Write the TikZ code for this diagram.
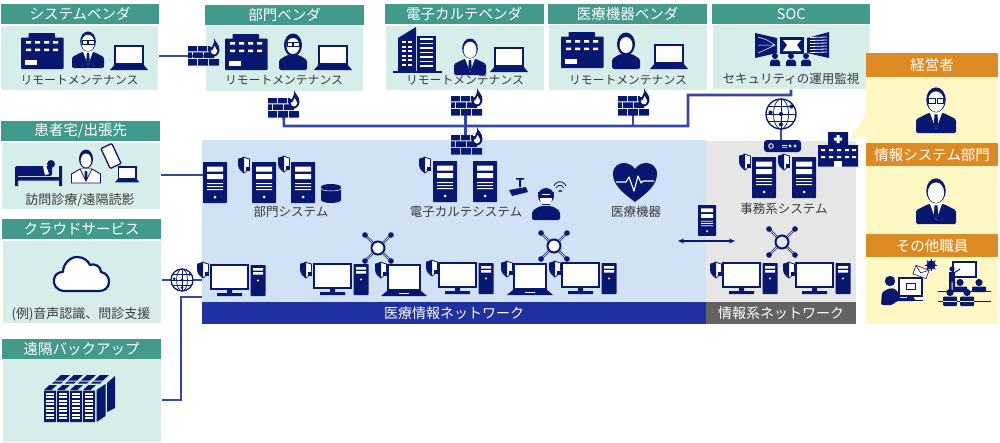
\documentclass[tikz,border=0pt]{standalone}
\usepackage{fontspec}
\setmainfont{Noto Sans CJK JP}
\usetikzlibrary{arrows.meta,calc}
\definecolor{navy}{HTML}{08176F}
\definecolor{hdrgreen}{HTML}{429A8C}
\definecolor{bodygreen}{HTML}{D7EDE9}
\definecolor{medblue}{HTML}{D1E2F6}
\definecolor{medbar}{HTML}{1F30A0}
\definecolor{linkblue}{HTML}{3047B0}
\definecolor{infogray}{HTML}{E6E6E6}
\definecolor{infobar}{HTML}{636363}
\definecolor{staffyellow}{HTML}{FFF7C4}
\definecolor{stafforange}{HTML}{DC8B24}
\definecolor{txt}{HTML}{3A3A3A}
\newcommand{\mybricks}{%
  \fill[navy] (0,8) rectangle (9,13.4) (10,8) rectangle (19,13.4) (20,8) rectangle (22,13.4);
  \fill[navy] (0,14.4) rectangle (4,20.2) (5,14.4) rectangle (15,20.2) (16,14.4) rectangle (26,20.2);
  \fill[navy] (0,21.2) rectangle (9,27.5) (10,21.2) rectangle (20,27.5) (21,21.2) rectangle (31,27.5);
  \fill[navy] (26,0) .. controls (27,4) and (31.5,6) .. (31.5,12) .. controls (31.5,16) and (28,18.5) .. (26,18.5) .. controls (23,18.5) and (20.5,15) .. (20.5,12) .. controls (20.5,9) and (23,8) .. (24,9) .. controls (25,6) and (27,4) .. (26,0) -- cycle;
  \fill[white] (26.5,8) .. controls (27,10) and (29.3,11) .. (29.3,13) .. controls (29.3,15.5) and (27,16.4) .. (26,16.4) .. controls (24,16.4) and (22.8,14.5) .. (22.8,13) .. controls (24,13) and (26,11) .. (26.5,8) -- cycle;
}
\newcommand{\mytower}{%
  \fill[navy,rounded corners=.6] (0,0) rectangle (15,31);
  \fill[white] (2.5,3) rectangle (12.5,5.5) (2.5,7) rectangle (12.5,9.5);
  \fill[white] (7.5,15.5) circle (1.2);
}
\newcommand{\mysuit}{%
  \fill[navy,rounded corners=1.5] (0,36) -- (0,25) -- (10,20) -- (22,20) -- (32,25) -- (32,36) -- cycle;
  \fill[white] (11,19.5) -- (21,19.5) -- (16,33) -- cycle;
  \fill[navy] (14.8,21) -- (17.2,21) -- (17.7,29) -- (16,33) -- (14.3,29) -- cycle;
}
\newcommand{\myhead}{%
  \fill[navy] (16,9.5) ellipse (7.8 and 10);
  \fill[white] (16,10.9) ellipse (6.5 and 8.2);
}
\newcommand{\myglasses}{%
  \draw[navy,line width=.7] (10,8.6) rectangle (15.3,12) (16.7,8.6) rectangle (22,12);
}
\newcommand{\mywoman}{%
  \fill[navy,rounded corners=1.5] (2,36) -- (2,26) -- (10,21) -- (22,21) -- (30,26) -- (30,36) -- cycle;
  \fill[navy] (16,11) ellipse (9 and 11.5);
  \fill[white] (16,12) ellipse (6.5 and 8);
}
\tikzset{
  panelbody/.style={fill=bodygreen,draw=white,line width=.6,anchor=north west,inner sep=0,minimum height=#1},
  panelhead/.style={fill=hdrgreen,text=white,anchor=north west,inner sep=0,minimum height=20,font=\fontsize{14.5}{14.5}\selectfont},
  stafftitle/.style={fill=stafforange,text=white,anchor=north west,inner sep=0,minimum height=#1,minimum width=132,font=\fontsize{14.5}{14.5}\selectfont},
  caption/.style={text=txt,inner sep=0,font=\fontsize{12.5}{12.5}\selectfont},
  remotecap/.style={text=txt,inner sep=0,font=\fontsize{11.8}{11.8}\selectfont},
  widecap/.style={text=txt,inner sep=0,font=\fontsize{13}{13}\selectfont},
  bartext/.style={text=white,inner sep=0,font=\fontsize{14}{14}\selectfont},
  conn/.style={draw=linkblue,line width=2.6},
  pics/bldg/.style={code={
    \fill[navy,rounded corners=.8] (7.5,0) rectangle (34,6) (0,4.5) rectangle (42.5,36);
    \fill[white] (5,8) rectangle (10,10.5) (14,8) rectangle (19,10.5) (23,8) rectangle (28,10.5) (32,8) rectangle (37,10.5);
    \fill[white] (5,15.5) rectangle (10,18) (14,15.5) rectangle (19,18) (23,15.5) rectangle (28,18) (32,15.5) rectangle (37,18);
    \fill[white] (4,27) rectangle (16,31.5);
  }},
  pics/towers/.style={code={
    \fill[navy] (0,44) rectangle (49,46);
    \fill[navy] (5,11) -- (23,0) -- (23,44) -- (5,44) -- cycle;
    \fill[navy] (24,8.5) rectangle (43,44);
    \foreach \yy in {14,18.5,23,27.5,32,36.5}{
      \fill[white] (8.5,\yy) rectangle (12.5,\yy+2);
      \fill[white] (15,\yy) rectangle (19,\yy+2);
    }
    \foreach \yy in {11,15.5,20,24.5,29,33.5,38}{
      \fill[white] (27,\yy) rectangle (40,\yy+1.6);
    }
  }},
  pics/manplain/.style={code={\mysuit\myhead}},
  pics/manglass/.style={code={\mysuit\myhead\myglasses}},
  pics/womanplain/.style={code={\mywoman}},
  pics/womanglass/.style={code={\mywoman\myglasses}},
  pics/laptop/.style={code={
    \fill[white] (5,0) rectangle (33,18);
    \draw[navy,line width=1.4] (5,0) rectangle (33,18);
    \fill[navy] (5,18) -- (33,18) -- (38,24) -- (0,24) -- cycle;
  }},
  pics/laptopwide/.style={code={
    \fill[white] (7,0) rectangle (39,25);
    \draw[navy,line width=1.8] (7,0) rectangle (39,25);
    \fill[navy] (7,25) -- (39,25) -- (46,31) -- (0,31) -- cycle;
    \fill[white] (18,27.8) rectangle (28,29);
  }},
  pics/firewall/.style={code={\mybricks}},
  pics/server/.style={code={
    \fill[navy,rounded corners=.7] (0,0) rectangle (24,41);
    \fill[white] (4,4.5) rectangle (20,9.5) (4,12) rectangle (20,17);
    \fill[white] (4,21) rectangle (20,22) (4,24) rectangle (20,25) (4,27) rectangle (20,28);
    \fill[white] (12,35) circle (1.5);
  }},
  pics/shield/.style={code={
    \path[fill=white,draw=navy,line width=.8] (0,-8) .. controls (2,-6.5) and (4,-6.5) .. (5.5,-6) -- (5.5,0) .. controls (5.5,4) and (2,6.5) .. (0,8) .. controls (-2,6.5) and (-5.5,4) .. (-5.5,0) -- (-5.5,-6) .. controls (-4,-6.5) and (-2,-6.5) .. (0,-8) -- cycle;
    \fill[navy] (0,-8) .. controls (-2,-6.5) and (-4,-6.5) .. (-5.5,-6) -- (-5.5,0) .. controls (-5.5,4) and (-2,6.5) .. (0,8) -- cycle;
    \fill[navy] (1.5,1.5) rectangle (6,6);
  }},
  pics/pc/.style={code={
    \fill[white] (0,0) rectangle (37,24);
    \draw[navy,line width=2] (0,0) rectangle (37,24);
    \fill[navy] (16,25) rectangle (21,28) (6,28) rectangle (31,31);
    \begin{scope}[shift={(39.5,0)}]\mytower\end{scope}
  }},
  pics/hub/.style={code={
    \foreach \dx/\dy in {-13/-13,13/-13,-13/13,13/13}{
      \draw[navy,line width=.7,double=medblue,double distance=.9] (0,0) -- (\dx*.9,\dy*.9);
      \fill[navy] (\dx,\dy) circle (2.8);
    }
    \fill[white] (0,0) circle (6.5);
    \draw[navy,line width=2] (0,0) circle (6.5);
  }},
  pics/hubgray/.style={code={
    \foreach \dx/\dy in {-13/-13,13/-13,-13/13,13/13}{
      \draw[navy,line width=.7,double=infogray,double distance=.9] (0,0) -- (\dx*.9,\dy*.9);
      \fill[navy] (\dx,\dy) circle (2.8);
    }
    \fill[infogray] (0,0) circle (6.5);
    \draw[navy,line width=2] (0,0) circle (6.5);
  }},
  pics/cylinder/.style={code={
    \fill[navy] (0,3) -- (0,16) arc[start angle=180,end angle=360,x radius=10,y radius=-3] -- (20,3) -- cycle;
    \fill[navy] (10,3) ellipse (10 and 3);
    \draw[white,line width=.5] (0,4.5) arc[start angle=180,end angle=360,x radius=10,y radius=-2.5];
  }},
  pics/heart/.style={code={
    \fill[navy] (22,39) .. controls (10,30) and (0,22) .. (0,11) .. controls (0,3) and (6,0) .. (11,0) .. controls (16,0) and (20,3) .. (22,6) .. controls (24,3) and (28,0) .. (33,0) .. controls (38,0) and (44,3) .. (44,11) .. controls (44,22) and (34,30) .. (22,39) -- cycle;
    \draw[white,line width=1.1,line join=round] (3,19) -- (13,19) -- (16,14) -- (21,28) -- (25,13) -- (28,20) -- (30,18) -- (41,18);
  }},
  pics/camera/.style={code={
    \fill[navy] (7,0) rectangle (15,1.5) (10,1.5) rectangle (12,9);
    \fill[navy] (0,12) -- (17,9) -- (19,14) -- (3,18) -- cycle;
  }},
  pics/hacker/.style={code={
    \fill[navy,rounded corners=2] (0,34) -- (0,25) -- (8,20) -- (20,20) -- (28,25) -- (28,34) -- cycle;
    \fill[navy] (14,10) circle (8);
    \fill[white] (14,13) ellipse (6 and 6);
    \fill[navy] (8,8.5) rectangle (20,12);
    \fill[navy] (6,6) rectangle (22,8);
    \fill[navy] (10,17.5) rectangle (18,19);
  }},
  pics/wifi/.style={code={
    \draw[navy,line width=.8] (-6,-2) arc[start angle=200,end angle=340,radius=6.4] (-4,0) arc[start angle=200,end angle=340,radius=4.2];
    \fill[navy] (0,1.5) -- (2.5,3.5) -- (-2,3.5) -- cycle;
  }},
  pics/globe/.style={code={
    \fill[white] (0,0) circle (#1);
    \draw[navy,line width=1.3] (0,0) circle (#1);
    \draw[navy,line width=.7] (0,-#1) -- (0,#1) (-#1,0) -- (#1,0);
    \draw[navy,line width=.7] (0,0) ellipse (#1*.5 and #1);
    \draw[navy,line width=.7] (-#1*.87,-#1*.5) -- (#1*.87,-#1*.5) (-#1*.87,#1*.5) -- (#1*.87,#1*.5);
    \fill[navy] (0,0) circle (#1*.14) (#1*.7,-#1*.5) circle (#1*.14) (-#1*.7,-#1*.1) circle (#1*.14) (0,#1*.7) circle (#1*.14);
  }},
  pics/router/.style={code={
    \fill[navy,rounded corners=3] (0,0) rectangle (37,12);
    \draw[white,line width=.9] (7,6) circle (2.3);
    \fill[white] (18,5) rectangle (23,5.8) (18,6.8) rectangle (23,7.6);
    \draw[white,line width=.7] (26,6) circle (1.2) (31,6) circle (1.2);
  }},
  pics/hospital/.style={code={
    \fill[navy] (10,0) rectangle (30,16) (0,13) rectangle (40,34.5);
    \fill[white] (18.5,3) rectangle (21.5,11) (16,5.5) rectangle (24,8.5);
    \foreach \xx in {3,11,19,27,34}{
      \fill[white] (\xx,17) rectangle (\xx+4,19) (\xx,24) rectangle (\xx+4,26);
    }
    \fill[white] (16,28.5) rectangle (24,34.5);
  }},
  pics/socwall/.style={code={
    \fill[navy] (0,1) -- (22,6) -- (22,21) -- (0,26) -- cycle;
    \fill[navy] (25,5) rectangle (49,22);
    \fill[navy] (52,6) -- (74,0) -- (74,26) -- (52,21) -- cycle;
    \fill[white] (28,8) -- (46,8) -- (42,13) -- (46,19) -- (28,19) -- (32,13) -- cycle;
    \draw[white,line width=.5] (3,5) -- (12,8) -- (20,13) -- (12,17) -- (3,21) (3,13) -- (20,13);
    \foreach \yy in {5,8,11,14,17,20}{\draw[white,line width=.8] (55,\yy+.5) -- (72,\yy);}
    \foreach \xx in {20,36,51}{
      \fill[navy] (\xx,24) circle (3);
      \fill[navy] (\xx-5,34) -- (\xx-5,30) -- (\xx-3,27.5) -- (\xx+3,27.5) -- (\xx+5,30) -- (\xx+5,34) -- cycle;
    }
  }},
  pics/bed/.style={code={
    \fill[navy,rounded corners=2] (0,6) rectangle (37,16);
    \fill[navy] (36,4) circle (4);
    \fill[white] (28,6.5) -- (31,5.5) -- (34,14) -- (30,15) -- cycle;
    \fill[navy] (0,17) rectangle (47,20.5) (0,12) rectangle (3,26) (44,6) rectangle (47,26);
  }},
  pics/doctor/.style={code={
    \path[fill=white,draw=navy,line width=.9] (0.5,33) -- (0.5,24) -- (9,19) -- (21,19) -- (29.5,24) -- (29.5,33) -- cycle;
    \fill[white] (10,19) -- (20,19) -- (15,31) -- cycle;
    \draw[navy,line width=.8] (9,19) -- (15,31) -- (21,19);
    \fill[navy] (13.8,21) -- (16.2,21) -- (16.5,28) -- (15,31) -- (13.5,28) -- cycle;
    \fill[navy] (15,9) ellipse (7 and 9.5);
    \fill[white] (15,10.5) ellipse (5.3 and 7);
  }},
  pics/phone/.style={code={
    \fill[white,rotate=25] (-6,-11) rectangle (6,11);
    \draw[navy,line width=1.3,rounded corners=1,rotate=25] (-6,-11) rectangle (6,11);
  }},
  pics/cloud/.style={code={
    \path[fill=white,draw=navy,line width=2.2,line join=round] (12,34) .. controls (3,34) and (0,27) .. (1,22) .. controls (2,17) and (6,15) .. (10,15) .. controls (10,7) and (17,0) .. (24,0) .. controls (31,0) and (35,4) .. (37,8) .. controls (41,6) and (48,9) .. (48,15) .. controls (54,16) and (56,21) .. (56,25) .. controls (56,31) and (51,34) .. (46,34) -- cycle;
  }},
  pics/storage/.style={code={
    \foreach \xx in {13,26,39,52}{
      \fill[navy] (\xx+4,0) -- (\xx+13,0) -- (\xx+7,5.5) -- (\xx-2,5.5) -- cycle;
      \fill[navy] (\xx-3,6.5) -- (\xx+6,6.5) -- (\xx+4,8.5) -- (\xx-5,8.5) -- cycle;
    }
    \fill[navy] (63,8) -- (71,1) -- (71,33) -- (63,37) -- cycle;
    \foreach \xx in {0,13,26,39}{
      \fill[navy] (\xx+5.5,10) -- (\xx+13,10) -- (\xx+7.5,15) -- (\xx,15) -- cycle;
      \fill[navy,rounded corners=.5] (\xx,15.5) rectangle (\xx+12,47);
      \foreach \yy in {17.5,21,24.5,28,31.5,35,38.5,42}{
        \fill[white] (\xx+2,\yy) rectangle (\xx+10,\yy+2);
      }
    }
    \fill[navy] (52.5,15) -- (61.5,9) -- (61.5,41) -- (52.5,47) -- cycle;
  }},
  pics/mailperson/.style={code={
    \fill[navy] (9,23) circle (5.2);
    \fill[navy,rounded corners=2] (0,47) -- (1,34) -- (9,30) -- (15,31) -- (18,37) -- (18,40) -- (34,40) -- (34,43) -- (15,43) -- (12,47) -- cycle;
    \fill[white] (18,20) rectangle (41,38);
    \draw[navy,line width=1.5] (18,20) rectangle (41,38);
    \draw[navy,line width=.9] (25,25) rectangle (34,31);
    \fill[navy] (26,38) rectangle (33,41);
    \fill[navy] (19,41.5) rectangle (42,42.6);
    \begin{scope}[shift={(40,14)},rotate=-20]
      \path[fill=white,draw=navy,line width=.6] (-7,-4.5) rectangle (7,4.5);
      \draw[navy,line width=.6] (-7,-4.5) -- (0,1) -- (7,-4.5);
    \end{scope}
    \foreach \aa in {0,45,...,315}{\draw[navy,line width=.8] (50,7) -- ++(\aa:6.2);}
    \fill[navy] (50,7) circle (4.6);
  }},
  pics/meeting/.style={code={
    \fill[white] (15,1) rectangle (38,16);
    \draw[navy,line width=1.1] (15,1) rectangle (38,16);
    \fill[navy] (14,8) circle (2.6);
    \fill[navy] (11,11) rectangle (17,21) (11,21) rectangle (13.5,30) (14.5,21) rectangle (17,30);
    \draw[navy,line width=1] (15,12.5) -- (22,8);
    \draw[navy,line width=.8] (0,30) -- (53,30);
    \fill[navy] (22,21.5) circle (3.6) (41,21.5) circle (3.6);
    \fill[navy,rounded corners=1] (15,31) rectangle (29,25.5) (34,31) rectangle (48,25.5);
    \draw[navy,line width=.8] (0,40) -- (53,40);
    \fill[navy] (12,31.5) circle (3.6) (29,31.5) circle (3.6);
    \fill[navy,rounded corners=1] (5,45) rectangle (19,35.5) (22,45) rectangle (36,35.5);
    \draw[staffyellow,line width=.4] (5,40) -- (19,40) (22,40) -- (36,40);
  }},
}
\begin{document}
\begin{tikzpicture}[x=1pt,y=-1pt]
\useasboundingbox (0,0) rectangle (1000,442);

% network areas
\node[anchor=north west,inner sep=0,minimum width=504,minimum height=162,fill=medblue] (medarea) at (202,140) {};
\node[anchor=north west,inner sep=0,minimum width=150,minimum height=162,fill=infogray] (infoarea) at (706,141) {};
\node[anchor=north west,inner sep=0,minimum width=504,minimum height=22,fill=medbar,bartext] (medbar) at (202,302) {医療情報ネットワーク};
\node[anchor=north west,inner sep=0,minimum width=150,minimum height=22,fill=infobar,bartext] (infobar) at (706,302) {情報系ネットワーク};

% vendor panels
\node[panelbody=65,minimum width=158] (sysvbody) at (0,25) {};
\node[panelhead,minimum width=158] (sysvhead) at (1,4) {システムベンダ};
\node[panelbody=66,minimum width=158] (deptvbody) at (205,25) {};
\node[panelhead,minimum width=159] (deptvhead) at (205,5) {部門ベンダ};
\node[panelbody=65,minimum width=159] (emrvbody) at (385,25) {};
\node[panelhead,minimum width=159] (emrvhead) at (384.5,4) {電子カルテベンダ};
\node[panelbody=66,minimum width=159] (medvbody) at (548,24) {};
\node[panelhead,minimum width=159] (medvhead) at (548,4) {医療機器ベンダ};
\node[panelbody=65,minimum width=158] (socbody) at (712,24) {};
\node[panelhead,minimum width=158] (sochead) at (712,4) {SOC};
\node[panelbody=67,minimum width=159] (homebody) at (1,142) {};
\node[panelhead,minimum width=159] (homehead) at (1,121) {患者宅/出張先};
\node[panelbody=83,minimum width=159] (cloudbody) at (2,240) {};
\node[panelhead,minimum width=159] (cloudhead) at (2,219) {クラウドサービス};
\node[panelbody=84,minimum width=159] (backupbody) at (2,358) {};
\node[panelhead,minimum width=159] (backuphead) at (2,339) {遠隔バックアップ};

% staff panel
\fill[staffyellow] (866,115) -- (848,140) -- (866,135) -- cycle;
\node[anchor=north west,inner sep=0,minimum width=132,minimum height=271,fill=staffyellow] (staffbody) at (866,53) {};
\node[stafftitle=24] (ceo) at (866,53) {経営者};
\node[stafftitle=23] (isdept) at (866,143) {情報システム部門};
\node[stafftitle=23] (others) at (866,234) {その他職員};

% anchors of connectors
\coordinate (fwsys) at (203.5,56);
\coordinate (fwdept) at (283.5,112);
\coordinate (fwemr) at (465.5,112);
\coordinate (fwmed) at (633,112);
\coordinate (fwcore) at (465.5,140);
\coordinate (trunkA) at (284,126);
\coordinate (trunkB) at (688,126);
\coordinate (trunkC) at (688,95);
\coordinate (trunkD) at (791,95);
\coordinate (srvhome) at (203,175);
\coordinate (globecloud) at (182,280);
\coordinate (backupA) at (181,400);
\coordinate (backupB) at (181,297);
\coordinate (backupC) at (202,297);
\coordinate (globesoc) at (781,114);
\coordinate (routersoc) at (781,146);
\coordinate (arrL) at (678,241);
\coordinate (arrR) at (735,241);

% connectors
\draw[conn] (sysvbody.east |- fwsys) -- (fwsys);
\draw[conn] (fwdept) -- (trunkA) -- (trunkB) -- (trunkC) -- (trunkD) -- (socbody.south -| trunkD);
\draw[conn] (fwemr) -- (fwcore);
\draw[conn] (fwmed) -- (fwmed |- trunkA);
\draw[conn] (homebody.east |- srvhome) -- (srvhome);
\draw[conn] (cloudbody.east |- globecloud) -- (medarea.west |- globecloud);
\draw[conn] (backupbody.east |- backupA) -- (backupA) -- (backupB) -- (backupC);
\draw[conn] (globesoc) -- (routersoc);
\draw[navy,line width=1.1,{Stealth[length=6pt,width=5pt]}-{Stealth[length=6pt,width=5pt]}] (arrL) -- (arrR);

% vendor icons
\pic at (21,33) {bldg};
\pic at (72,32) {manglass};
\pic at (110,46) {laptop};
\node[remotecap] (capsys) at (79.5,80) {リモートメンテナンス};
\pic at (188,38) {firewall};
\pic at (225,34) {bldg};
\pic at (277,34) {womanglass};
\pic at (314,46) {laptop};
\node[remotecap] (capdept) at (284,80) {リモートメンテナンス};
\pic at (393,27) {towers};
\pic at (454,39) {manplain};
\pic at (490,48) {laptop};
\node[remotecap] (capemr) at (465,80) {リモートメンテナンス};
\pic at (561,32) {bldg};
\pic at (610,33) {womanplain};
\pic at (650,45) {laptop};
\node[remotecap] (capmed) at (628,80) {リモートメンテナンス};
\pic at (755,32) {socwall};
\node[caption] (capsoc) at (791,79) {セキュリティの運用監視};

% firewalls
\pic at (268,90) {firewall};
\pic at (451,88) {firewall};
\pic at (451,127) {firewall};
\pic at (618,88) {firewall};

% home panel
\pic at (15,160) {bed};
\pic at (71,150) {doctor};
\pic at (111,156) {phone};
\pic[scale=.64] at (115,167) {laptop};
\node[widecap] (caphome) at (80,200) {訪問診療/遠隔読影};

% cloud + backup
\pic at (53,257) {cloud};
\node[widecap] (capcloud) at (81,314) {(例)音声認識、問診支援};
\pic at (44,375) {storage};

% department systems
\pic at (203,162) {server};
\pic at (252,162) {server};
\pic at (291,162) {server};
\pic at (321,184) {cylinder};
\pic at (244,165) {shield};
\pic at (284,164) {shield};
\node[caption] (capdeptsys) at (291,212) {部門システム};

% EMR systems
\pic at (433,161) {server};
\pic at (473,161) {server};
\pic at (425,165) {shield};
\pic at (509,178) {camera};
\pic at (532,186) {hacker};
\pic at (560,188) {wifi};
\node[caption] (capemrsys) at (466,212) {電子カルテシステム};

% medical devices
\pic at (613,163) {heart};
\node[caption] (capmeddev) at (636,212) {医療機器};
\pic[xscale=.75,yscale=.75] at (698,205) {server};

% business systems
\pic at (752,157) {server};
\pic at (792,157) {server};
\pic at (745,162) {shield};
\pic at (784,162) {shield};
\node[caption] (capbiz) at (784,209) {事務系システム};
\pic at (781,114) {globe=15};
\pic at (764,140) {router};
\pic at (818,132) {hospital};

% terminals
\pic at (182,280) {globe=11};
\pic at (378,248) {hub};
\pic at (554,246) {hub};
\pic at (782,242) {hubgray};
\pic at (211,265) {pc};
\pic at (203,270) {shield};
\pic at (314,264) {pc};
\pic at (306,270) {shield};
\pic at (381,265) {laptopwide};
\pic at (381,270) {shield};
\pic at (439,263) {pc};
\pic at (432,268) {shield};
\pic at (507,264) {laptopwide};
\pic at (507,269) {shield};
\pic at (562,263) {pc};
\pic at (555,269) {shield};
\pic at (723,263) {pc};
\pic at (716,270) {shield};
\pic at (796,263) {pc};
\pic at (789,270) {shield};

% staff icons
\pic[scale=1.25] at (916,88) {manglass};
\pic[scale=1.25] at (916,179) {manplain};
\pic at (881,258) {mailperson};
\pic at (938,261) {meeting};
\end{tikzpicture}
\end{document}
